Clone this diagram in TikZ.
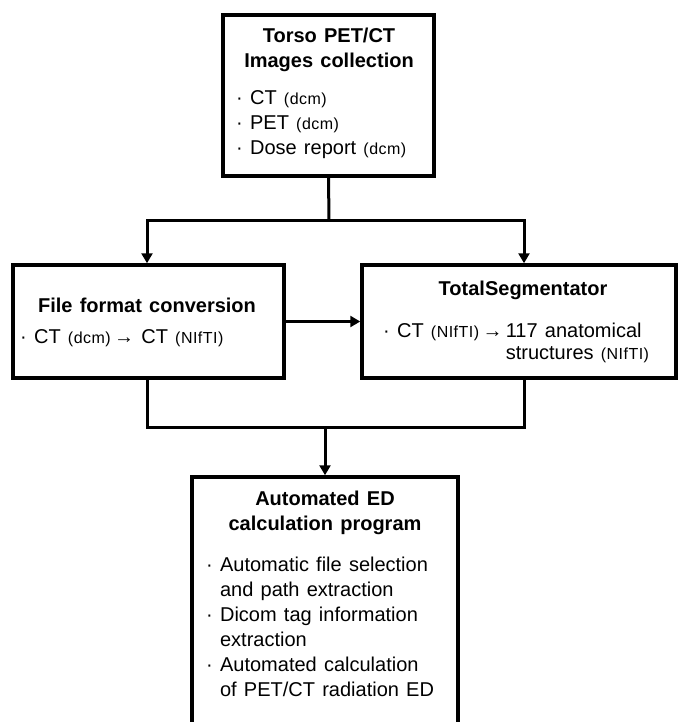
\documentclass[tikz,border=0pt]{standalone}
\usepackage{fontspec}
\setmainfont{Liberation Sans}[WordSpace=1.3]
\newfontfamily\smfont{Liberation Sans}[LetterSpace=3,WordSpace=1.3]
\usetikzlibrary{arrows.meta}
\usetikzlibrary{positioning}
\tikzset{box/.style={draw, line width=3.5pt, inner sep=0pt}}
\tikzset{ttl/.style={font=\fontsize{20}{25}\selectfont\bfseries, align=center, inner sep=0pt}}
\tikzset{itm/.style={font=\fontsize{20}{25}\selectfont, align=left, inner sep=0pt, anchor=west}}
\tikzset{
link/.style={line width=3pt}, flow/.style={line width=3pt, -{Triangle[length=10pt,width=11pt]}}
}
\newcommand{\sm}[1]{{\smfont\fontsize{16}{16}\selectfont #1}}

\begin{document}
\begin{tikzpicture}[x=1pt,y=-1pt]
    \useasboundingbox (0,0) rectangle (678,722);
    \clip (0,0) rectangle (678,722);
    % boxes
    \node[box, minimum width=211pt, minimum height=161pt] (src) at (328.5,95.5) {};
    \node[box, minimum width=271pt, minimum height=113pt] (conv) at (148.5,321.5) {};
    \node[box, minimum width=314pt, minimum height=113pt] (seg) at (519,321.5) {};
    \node[box, minimum width=266pt, minimum height=290pt] (calc) at (325,622) {};
    % texts
    \node[ttl] (srcttl) at (329,49.5) {Torso PET/CT\\Images collection};
    \node[itm] (srcitm) at (236,125) {· CT \sm{(dcm)}\\· PET \sm{(dcm)}\\· Dose report \sm{(dcm)}};
    \node[ttl] (convttl) at (147,305) {File format conversion};
    \node[itm] (convitm) at (20,338) {· CT \sm{(dcm)}\,→ CT \sm{(NIfTI)}};
    \node[ttl] (segttl) at (523,290) {TotalSegmentator};
    \node[itm, font=\fontsize{20}{22}\selectfont] (segitm) at (383,343) {· CT \sm{(NIfTI)}\,→\,117 anatomical\\\phantom{· CT \sm{(NIfTI)}\,→\,}structures \sm{(NIfTI)}};
    \node[ttl] (calcttl) at (325,513) {Automated ED\\calculation program};
    \node[itm] (calcitm) at (206,626.5) {· Automatic file selection\\\phantom{· }and path extraction\\· Dicom tag information\\\phantom{· }extraction\\· Automated calculation\\\phantom{· }of PET/CT radiation ED};
    % connectors
    \coordinate (split) at (329,220);
    \coordinate (merge) at (325,427);
    \draw[link] (src.south) -- (split);
    \draw[flow] (split) -| ([xshift=-1.5pt]conv.north);
    \draw[flow] (split) -| ([xshift=5pt]seg.north);
    \draw[flow] (conv.east) -- (seg.west);
    \draw[link] ([xshift=-1.5pt]conv.south) |- (merge) -| ([xshift=5pt]seg.south);
    \draw[flow] (merge) -- (calc.north);
\end{tikzpicture}
\end{document}
